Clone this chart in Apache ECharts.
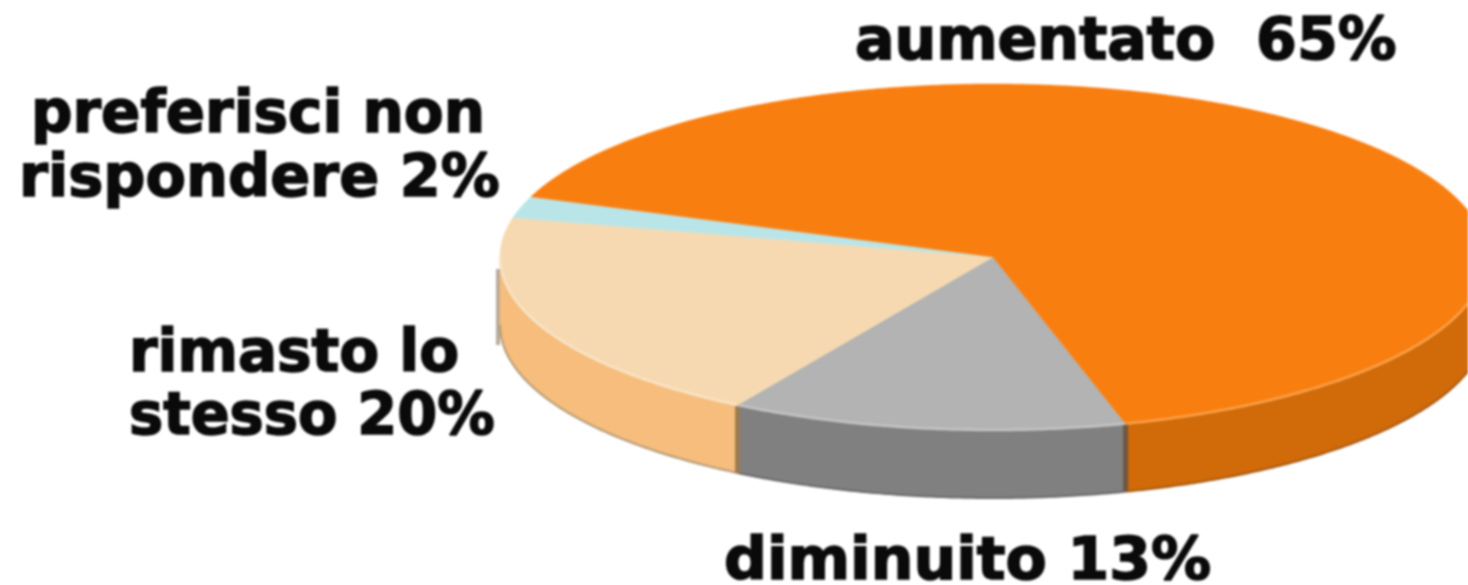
<!DOCTYPE html>
<html><head><meta charset="utf-8">
<style>html,body{margin:0;padding:0;background:#fff;overflow:hidden}#c{width:1468px;height:585px;filter:blur(0.8px)}</style>
<script src="https://cdn.jsdelivr.net/npm/echarts@6/dist/echarts.min.js"></script>
</head><body><div id="c"></div>
<script>
const categories = ['diminuito', 'rimasto lo stesso', 'preferisci non rispondere', 'aumentato'];
const values = [13, 20, 2, 65];
const labelLines = [
  ['diminuito 13%'],
  ['rimasto lo', 'stesso 20%'],
  ['preferisci non', 'rispondere 2%'],
  ['aumentato  65%']
];
const topColors = ['#b2b3b2', '#f6d9b0', '#b9e5e9', '#f97e10'];
const sideColors = ['#808080', '#f6bd7c', '#b9e5e9', '#d16a08'];
const rimColors = ['#c4c5c4', '#f9e4c8', '#cfeef0', '#fba24b'];
const edgeColors = ['#6a6a6a', '#b39a78', '#b9e5e9', '#a85a12'];
const seamColors = ['#6f5840', '#9b7a50', '#b9e5e9', '#d16a08'];
const labelBoxes = [
  [[724, 580, 1.035]],
  [[129, 372, 1.0], [129, 435, 0.99]],
  [[31, 133, 1.0], [19, 197, 1.016]],
  [[855, 60, 1.012]]
];

const cx = 993, cy = 257, rx = 493, ry = 173, depth = 68, startDeg = 74.4;
const total = values.reduce((a, b) => a + b, 0);
let run = 0;
const rows = values.map((v, i) => { const r = [i, run, v]; run += v; return r; });
const pt = (deg, dy) => {
  const t = deg * Math.PI / 180;
  return [cx + rx * Math.cos(t), cy + ry * Math.sin(t) + (dy || 0)];
};
const arc = (a, b, dy) => {
  const out = [], n = Math.max(2, Math.ceil(Math.abs(b - a) * 2));
  for (let k = 0; k <= n; k++) out.push(pt(a + (b - a) * k / n, dy));
  return out;
};

function renderItem(params, api) {
  const i = api.value(0);
  const a = startDeg + api.value(1) / total * 360;
  const b = a + api.value(2) / total * 360;
  const children = [];
  [[a, b], [a - 360, b - 360]].forEach(([p, q]) => {
    const s = Math.max(p, 0), e = Math.min(q, 180);
    if (e <= s) return;
    children.push({
      type: 'polygon', z2: 1,
      shape: { points: arc(s, e, 0).concat(arc(e, s, depth)) },
      style: { fill: sideColors[i], stroke: sideColors[i], lineWidth: 0.5 }
    });
    children.push({
      type: 'polyline', z2: 2,
      shape: { points: arc(s, e, depth) },
      style: { fill: 'none', stroke: edgeColors[i], lineWidth: 2 }
    });
    if (e === 180) {
      children.push({
        type: 'line', z2: 0,
        shape: { x1: pt(180)[0] - 2, y1: cy + 12, x2: pt(180)[0] - 2, y2: cy + 88 },
        style: { stroke: '#b9ab9b', lineWidth: 4 }
      });
    }
  });
  if (a > 0 && a < 180) {
    const p = pt(a);
    children.push({
      type: 'line', z2: 3,
      shape: { x1: p[0], y1: p[1], x2: p[0], y2: p[1] + depth },
      style: { stroke: seamColors[i === 0 ? 0 : 1], lineWidth: 5 }
    });
  }
  children.push({
    type: 'polygon', z2: 4,
    shape: { points: [[cx, cy]].concat(arc(a, b, 0)) },
    style: { fill: topColors[i], stroke: topColors[i], lineWidth: 0.5 }
  });
  [[a, b], [a - 360, b - 360]].forEach(([p, q]) => {
    const s = Math.max(p, 0), e = Math.min(q, 180);
    if (e <= s) return;
    children.push({
      type: 'polyline', z2: 5,
      shape: { points: arc(s, e, 0) },
      style: { fill: 'none', stroke: rimColors[i], lineWidth: 2.5 }
    });
  });
  return { type: 'group', children };
}

const textEls = [];
labelLines.forEach((lines, i) => lines.forEach((txt, j) => {
  const [x, y, sx] = labelBoxes[i][j];
  textEls.push({
    type: 'text', x, y: y + 13, scaleX: sx, z: 10,
    style: {
      text: txt, fill: '#0a0a0a', stroke: '#0a0a0a', lineWidth: 1.6,
      font: 'bold 58px "DejaVu Sans"', textAlign: 'left', textVerticalAlign: 'bottom'
    }
  });
}));

const chart = echarts.init(document.getElementById('c'), null, { renderer: 'canvas' });
chart.setOption({
  animation: false,
  backgroundColor: '#ffffff',
  graphic: textEls,
  series: [{
    type: 'custom',
    coordinateSystem: 'none',
    renderItem,
    data: rows,
    name: categories.join(', ')
  }]
});
</script></body></html>
